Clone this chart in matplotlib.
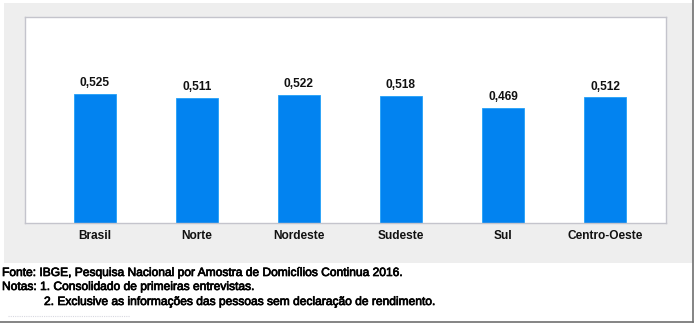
import matplotlib
matplotlib.use("Agg")
import matplotlib.pyplot as plt
from matplotlib.lines import Line2D
import matplotlib.patheffects as pe

categories = ["Brasil", "Norte", "Nordeste", "Sudeste", "Sul", "Centro-Oeste"]
values = [0.525, 0.511, 0.522, 0.518, 0.469, 0.512]
value_labels = ["0,525", "0,511", "0,522", "0,518", "0,469", "0,512"]
footer_lines = [
    "Fonte: IBGE, Pesquisa Nacional por Amostra de Domicílios Continua 2016.",
    "Notas: 1. Consolidado de primeiras entrevistas.",
    "2. Exclusive as informações das pessoas sem declaração de rendimento.",
]

W, H = 698, 323
fig = plt.figure(figsize=(W / 100, H / 100), dpi=100)
fig.patch.set_facecolor("white")
plt.rcParams["font.family"] = ["Liberation Sans", "DejaVu Sans"]

def fx(px):
    return px / W

def fy(py):
    return 1 - py / H

# gray panel as a background axes
bg = fig.add_axes([fx(4), fy(263), fx(693) - fx(4), fy(3) - fy(263)], zorder=-5)
bg.set_facecolor("#eeeeee")
bg.set_xticks([])
bg.set_yticks([])
for s in bg.spines.values():
    s.set_visible(False)

# outer border right and bottom
fig.add_artist(Line2D([fx(693), fx(693)], [fy(0), fy(322)], transform=fig.transFigure,
                      color="#707070", lw=1.2))
fig.add_artist(Line2D([fx(0), fx(693)], [fy(322), fy(322)], transform=fig.transFigure,
                      color="#707070", lw=1.2))
# faint short line under footer
fig.add_artist(Line2D([fx(8), fx(130)], [fy(316), fy(316)], transform=fig.transFigure,
                      color="#d8d8e0", lw=0.8, ls=(0, (1, 1))))

ax = fig.add_axes([fx(25), fy(223), fx(666) - fx(25), fy(17) - fy(223)], zorder=1)
ax.set_facecolor("white")
x = list(range(len(categories)))
bars = ax.bar(x, values, width=0.41, color="#0283f0", edgecolor="#22a0f8", linewidth=0.6)
for xi, v, lab in zip(x, values, value_labels):
    ax.annotate(lab, (xi, v), xytext=(0, 3.5), textcoords="offset points",
                ha="center", va="bottom", fontsize=8.6, fontweight="bold", color="#111111")
ax.set_xlim(-0.686, 5.598)
ax.set_ylim(0, 0.84)
ax.set_yticks([])
ax.set_xticks(x)
ax.set_xticklabels(categories, fontsize=8.6, fontweight="bold", color="#111111")
ax.tick_params(axis="x", length=0, pad=5)
for s in ax.spines.values():
    s.set_color("#c4c4cc")
    s.set_linewidth(1.0)

fs = 8.65
eff = [pe.withStroke(linewidth=0.5, foreground="black")]
fig.text(fx(2), fy(273), footer_lines[0], fontsize=fs, va="center", ha="left", color="black", path_effects=eff)
fig.text(fx(2), fy(287), footer_lines[1], fontsize=fs, va="center", ha="left", color="black", path_effects=eff)
fig.text(fx(44), fy(302), footer_lines[2], fontsize=fs, va="center", ha="left", color="black", path_effects=eff)

fig.savefig("out.png", dpi=100, facecolor="white")
